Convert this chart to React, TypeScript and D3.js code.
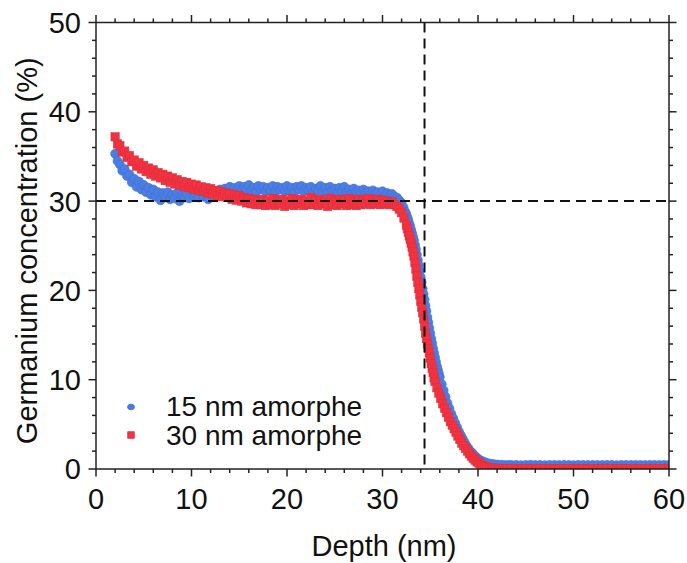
import React from "react";
import * as d3 from "d3";

// ---- Data ----
const depth15: number[] = [
  2.0, 2.25, 2.5, 2.75, 3.0, 3.25, 3.5, 3.75, 4.0, 4.25, 4.5, 4.75, 5.0, 5.25, 5.5, 5.75, 6.0, 6.25, 6.5, 6.75,
  7.0, 7.25, 7.5, 7.75, 8.0, 8.25, 8.5, 8.75, 9.0, 9.25, 9.5, 9.75, 10.0, 10.25, 10.5, 10.75, 11.0, 11.25, 11.5, 11.75,
  12.0, 12.25, 12.5, 12.75, 13.0, 13.25, 13.5, 13.75, 14.0, 14.25, 14.5, 14.75, 15.0, 15.25, 15.5, 15.75, 16.0, 16.25, 16.5, 16.75,
  17.0, 17.25, 17.5, 17.75, 18.0, 18.25, 18.5, 18.75, 19.0, 19.25, 19.5, 19.75, 20.0, 20.25, 20.5, 20.75, 21.0, 21.25, 21.5, 21.75,
  22.0, 22.25, 22.5, 22.75, 23.0, 23.25, 23.5, 23.75, 24.0, 24.25, 24.5, 24.75, 25.0, 25.25, 25.5, 25.75, 26.0, 26.25, 26.5, 26.75,
  27.0, 27.25, 27.5, 27.75, 28.0, 28.25, 28.5, 28.75, 29.0, 29.25, 29.5, 29.75, 30.0, 30.25, 30.5, 30.75, 31.0, 31.25, 31.5, 31.75,
  32.0, 32.2, 32.4, 32.5, 32.6, 32.7, 32.8, 32.9, 33.0, 33.1, 33.2, 33.3, 33.4, 33.5, 33.6, 33.7, 33.8, 33.9, 34.0, 34.1,
  34.2, 34.3, 34.4, 34.5, 34.6, 34.7, 34.8, 34.9, 35.0, 35.1, 35.2, 35.3, 35.4, 35.5, 35.6, 35.7, 35.8, 35.9, 36.0, 36.2,
  36.4, 36.6, 36.8, 37.0, 37.2, 37.4, 37.6, 37.8, 38.0, 38.2, 38.4, 38.6, 38.8, 39.0, 39.2, 39.4, 39.6, 39.8, 40.0, 40.2,
  40.4, 40.6, 40.8, 41.0, 41.3, 41.6, 42.0, 42.4, 42.8, 43.2, 43.5, 44.0, 44.5, 45.0, 45.5, 46.0, 46.5, 47.0, 47.5, 48.0,
  48.5, 49.0, 49.5, 50.0, 50.5, 51.0, 51.5, 52.0, 52.5, 53.0, 53.5, 54.0, 54.5, 55.0, 55.5, 56.0, 56.5, 57.0, 57.5, 58.0,
  58.5, 59.0, 59.5, 60.0,
];
const conc15: number[] = [
  35.3, 34.5, 34.1, 33.4, 33.6, 32.8, 33.0, 32.1, 32.5, 31.6, 32.2, 31.3, 31.8, 31.0, 31.5, 30.7, 31.3, 30.5, 31.0, 30.1,
  30.9, 30.4, 31.0, 30.2, 30.7, 30.3, 30.9, 30.0, 30.6, 30.4, 30.8, 30.3, 30.9, 30.5, 30.7, 30.4, 31.0, 30.5, 30.8, 30.2,
  31.0, 30.6, 31.1, 30.7, 31.3, 30.9, 31.4, 31.0, 31.6, 31.1, 31.5, 31.2, 31.7, 31.1, 31.6, 31.3, 31.8, 31.2, 31.5, 31.0,
  31.7, 31.3, 31.6, 31.1, 31.5, 31.2, 31.7, 31.0, 31.6, 31.3, 31.5, 31.1, 31.7, 31.2, 31.5, 31.0, 31.6, 31.3, 31.7, 31.1,
  31.5, 31.2, 31.6, 31.0, 31.4, 31.2, 31.7, 31.1, 31.5, 31.0, 31.6, 31.2, 31.4, 30.9, 31.5, 31.1, 31.6, 31.0, 31.3, 30.8,
  31.4, 31.0, 31.2, 30.8, 31.3, 30.9, 31.1, 30.7, 31.2, 30.8, 31.0, 30.6, 31.1, 30.7, 30.9, 30.6, 30.8, 30.5, 30.4, 30.1,
  29.8, 29.3, 28.8, 28.5, 28.2, 27.9, 27.5, 27.2, 26.8, 26.4, 26.0, 25.6, 25.1, 24.6, 24.0, 23.4, 22.8, 22.2, 21.5, 20.9,
  20.2, 19.6, 19.0, 18.3, 17.7, 17.0, 16.4, 15.8, 15.2, 14.6, 14.1, 13.5, 13.0, 12.5, 12.0, 11.5, 11.1, 10.7, 10.3, 9.5,
  8.8, 8.1, 7.4, 6.8, 6.2, 5.7, 5.2, 4.7, 4.2, 3.8, 3.4, 3.0, 2.6, 2.3, 2.0, 1.8, 1.55, 1.35, 1.15, 1.0,
  0.9, 0.8, 0.72, 0.65, 0.6, 0.55, 0.5, 0.48, 0.46, 0.45, 0.44, 0.46, 0.43, 0.45, 0.47, 0.44, 0.45, 0.43, 0.46, 0.45,
  0.44, 0.46, 0.45, 0.43, 0.46, 0.45, 0.44, 0.46, 0.45, 0.44, 0.46, 0.45, 0.43, 0.46, 0.45, 0.44, 0.46, 0.45, 0.44, 0.46,
  0.45, 0.44, 0.46, 0.45,
];

const depth30: number[] = [
  2.0, 2.25, 2.5, 2.75, 3.0, 3.25, 3.5, 3.75, 4.0, 4.25, 4.5, 4.75, 5.0, 5.25, 5.5, 5.75, 6.0, 6.25, 6.5, 6.75,
  7.0, 7.25, 7.5, 7.75, 8.0, 8.25, 8.5, 8.75, 9.0, 9.25, 9.5, 9.75, 10.0, 10.25, 10.5, 10.75, 11.0, 11.25, 11.5, 11.75,
  12.0, 12.25, 12.5, 12.75, 13.0, 13.25, 13.5, 13.75, 14.0, 14.25, 14.5, 14.75, 15.0, 15.25, 15.5, 15.75, 16.0, 16.25, 16.5, 16.75,
  17.0, 17.25, 17.5, 17.75, 18.0, 18.25, 18.5, 18.75, 19.0, 19.25, 19.5, 19.75, 20.0, 20.25, 20.5, 20.75, 21.0, 21.25, 21.5, 21.75,
  22.0, 22.25, 22.5, 22.75, 23.0, 23.25, 23.5, 23.75, 24.0, 24.25, 24.5, 24.75, 25.0, 25.25, 25.5, 25.75, 26.0, 26.25, 26.5, 26.75,
  27.0, 27.25, 27.5, 27.75, 28.0, 28.25, 28.5, 28.75, 29.0, 29.25, 29.5, 29.75, 30.0, 30.25, 30.5, 30.75, 31.0, 31.25, 31.5, 31.75,
  32.0, 32.25, 32.5, 32.6, 32.7, 32.8, 32.9, 33.0, 33.1, 33.2, 33.3, 33.4, 33.5, 33.6, 33.7, 33.8, 33.9, 34.0, 34.1, 34.2,
  34.3, 34.4, 34.5, 34.6, 34.7, 34.8, 34.9, 35.0, 35.1, 35.2, 35.3, 35.4, 35.5, 35.7, 35.9, 36.1, 36.3, 36.5, 36.7, 36.9,
  37.1, 37.3, 37.5, 37.7, 37.9, 38.1, 38.3, 38.5, 38.7, 38.9, 39.1, 39.3, 39.5, 39.7, 39.9, 40.1, 40.3, 40.5, 40.7, 40.9,
  41.2, 41.5, 41.8, 42.2, 42.6, 43.0, 43.5, 44.0, 44.5, 45.0, 45.5, 46.0, 46.5, 47.0, 47.5, 48.0, 48.5, 49.0, 49.5, 50.0,
  50.5, 51.0, 51.5, 52.0, 52.5, 53.0, 53.5, 54.0, 54.5, 55.0, 55.5, 56.0, 56.5, 57.0, 57.5, 58.0, 58.5, 59.0, 59.5, 60.0,
];
const conc30: number[] = [
  37.2, 36.4, 36.2, 35.5, 35.6, 34.9, 35.1, 34.4, 34.6, 33.9, 34.3, 33.6, 34.0, 33.3, 33.7, 33.0, 33.5, 32.8, 33.2, 32.6,
  33.0, 32.3, 32.8, 32.1, 32.6, 31.9, 32.4, 31.8, 32.2, 31.6, 32.1, 31.5, 31.9, 31.3, 31.8, 31.2, 31.6, 31.1, 31.5, 30.9,
  31.4, 30.8, 31.2, 30.6, 31.1, 30.5, 30.9, 30.4, 30.8, 30.2, 30.7, 30.1, 30.6, 30.0, 30.4, 29.8, 30.3, 29.7, 30.2, 29.6,
  30.1, 29.6, 30.2, 29.5, 30.0, 29.6, 30.3, 29.5, 30.1, 29.7, 30.2, 29.4, 30.0, 29.6, 30.3, 29.5, 30.1, 29.7, 30.2, 29.5,
  30.0, 29.6, 30.4, 29.6, 30.1, 29.5, 30.2, 29.7, 30.0, 29.4, 30.3, 29.6, 30.1, 29.5, 30.2, 29.7, 30.1, 29.5, 30.3, 29.6,
  30.0, 29.5, 30.2, 29.6, 30.1, 29.7, 30.3, 29.6, 30.1, 29.7, 30.2, 29.6, 30.1, 29.7, 30.0, 29.6, 29.9, 29.6, 29.4, 29.1,
  28.7, 28.1, 27.3, 26.9, 26.5, 26.1, 25.7, 25.3, 24.8, 24.3, 23.8, 23.1, 22.4, 21.6, 20.9, 20.2, 19.5, 18.8, 18.1, 17.5,
  16.8, 16.0, 15.2, 14.6, 14.0, 13.5, 13.0, 12.4, 11.8, 11.3, 10.8, 10.2, 9.8, 9.1, 8.5, 7.9, 7.3, 6.8, 6.3, 5.8,
  5.3, 4.9, 4.5, 4.1, 3.7, 3.3, 2.9, 2.6, 2.3, 2.0, 1.7, 1.45, 1.2, 1.0, 0.8, 0.65, 0.5, 0.4, 0.3, 0.22,
  0.15, 0.1, 0.08, 0.07, 0.06, 0.06, 0.07, 0.06, 0.05, 0.07, 0.06, 0.05, 0.07, 0.06, 0.05, 0.06, 0.07, 0.05, 0.06, 0.07,
  0.05, 0.06, 0.07, 0.05, 0.06, 0.07, 0.06, 0.05, 0.07, 0.06, 0.06, 0.05, 0.07, 0.06, 0.05, 0.07, 0.06, 0.05, 0.06, 0.07,
];

const seriesNames: string[] = ["15 nm amorphe", "30 nm amorphe"];
const xTicks: number[] = [0, 10, 20, 30, 40, 50, 60];
const yTicks: number[] = [0, 10, 20, 30, 40, 50];
const refConc = 30;
const refDepth = 34.4;

const W = 687;
const H = 563;
const M = { left: 96, right: 669, top: 22.5, bottom: 469 };
const FONT = "'Liberation Sans', Arial, Helvetica, sans-serif";
const FS = 29;
const LFS = 28;
const BLUE = "#4b7ee4";
const RED = "#ef3340";

export default function App() {
  const x = d3.scaleLinear().domain([0, 60]).range([M.left, M.right]);
  const y = d3.scaleLinear().domain([0, 50]).range([M.bottom, M.top]);

  const xMinor = d3.range(0, 60.001, 2).filter((v) => v % 10 !== 0);
  const yMinor = d3.range(0, 50.001, 2).filter((v) => v % 10 !== 0);

  const blue = depth15.map((d, i) => ({ x: d, y: conc15[i] }));
  const red = depth30.map((d, i) => ({ x: d, y: conc30[i] }));

  const axisColor = "#222";
  const axisW = 1.5;
  const majorLen = 7.5;
  const minorLen = 4;
  const sq = 8.4;

  return (
    <svg
      width={W}
      height={H}
      style={{ position: "fixed", left: 0, top: 0, background: "#fff" }}
      fontFamily={FONT}
    >
      <defs>
        <clipPath id="plotClip">
          <rect x={M.left} y={M.top} width={M.right - M.left} height={M.bottom - M.top} />
        </clipPath>
      </defs>

      {/* data */}
      <g clipPath="url(#plotClip)">
        {blue.map((p, i) => (
          <circle key={"b" + i} cx={x(p.x)} cy={y(p.y)} r={4.5} fill={BLUE} stroke="#3f6fd0" strokeWidth={0.6} />
        ))}
        {red.map((p, i) => (
          <rect
            key={"r" + i}
            x={x(p.x) - sq / 2}
            y={y(p.y) - sq / 2}
            width={sq}
            height={sq}
            fill={RED}
            stroke="#e52a38"
            strokeWidth={0.5}
          />
        ))}
      </g>

      {/* reference dashed lines */}
      <line
        x1={x(0)}
        x2={x(60)}
        y1={y(refConc)}
        y2={y(refConc)}
        stroke="#111"
        strokeWidth={2}
        strokeDasharray="10,6"
      />
      <line
        x1={x(refDepth)}
        x2={x(refDepth)}
        y1={y(50)}
        y2={y(0)}
        stroke="#111"
        strokeWidth={2}
        strokeDasharray="10,6"
      />

      {/* frame */}
      <rect
        x={M.left}
        y={M.top}
        width={M.right - M.left}
        height={M.bottom - M.top}
        fill="none"
        stroke={axisColor}
        strokeWidth={axisW}
      />

      {/* x ticks bottom and top */}
      {xTicks.map((t) => (
        <g key={"xt" + t}>
          <line x1={x(t)} x2={x(t)} y1={M.bottom} y2={M.bottom + majorLen} stroke={axisColor} strokeWidth={axisW} />
          <line x1={x(t)} x2={x(t)} y1={M.top} y2={M.top - majorLen} stroke={axisColor} strokeWidth={axisW} />
          <text x={x(t)} y={509} textAnchor="middle" fontSize={FS} fill="#111">
            {t}
          </text>
        </g>
      ))}
      {xMinor.map((t) => (
        <g key={"xm" + t}>
          <line x1={x(t)} x2={x(t)} y1={M.bottom} y2={M.bottom + minorLen} stroke={axisColor} strokeWidth={axisW} />
          <line x1={x(t)} x2={x(t)} y1={M.top} y2={M.top - minorLen} stroke={axisColor} strokeWidth={axisW} />
        </g>
      ))}

      {/* y ticks left and right */}
      {yTicks.map((t) => (
        <g key={"yt" + t}>
          <line x1={M.left} x2={M.left - majorLen} y1={y(t)} y2={y(t)} stroke={axisColor} strokeWidth={axisW} />
          <line x1={M.right} x2={M.right + majorLen} y1={y(t)} y2={y(t)} stroke={axisColor} strokeWidth={axisW} />
          <text x={81} y={y(t)} dy="0.36em" textAnchor="end" fontSize={FS} fill="#111">
            {t}
          </text>
        </g>
      ))}
      {yMinor.map((t) => (
        <g key={"ym" + t}>
          <line x1={M.left} x2={M.left - minorLen} y1={y(t)} y2={y(t)} stroke={axisColor} strokeWidth={axisW} />
          <line x1={M.right} x2={M.right + minorLen} y1={y(t)} y2={y(t)} stroke={axisColor} strokeWidth={axisW} />
        </g>
      ))}

      {/* axis titles */}
      <text x={384} y={556} textAnchor="middle" fontSize={FS} fill="#111">
        Depth (nm)
      </text>
      <text
        transform={`translate(37, ${(M.top + M.bottom) / 2 + 5}) rotate(-90)`}
        textAnchor="middle"
        fontSize={FS}
        fill="#111"
      >
        Germanium concentration (%)
      </text>

      {/* legend */}
      <g>
        <ellipse cx={131} cy={407} rx={3.4} ry={2.8} fill={BLUE} stroke="#3a63b8" strokeWidth={0.8} />
        <text x={166} y={416} fontSize={LFS} fill="#111">
          {seriesNames[0]}
        </text>
        <rect x={131 - 3.3} y={435 - 3.3} width={6.6} height={6.6} fill={RED} stroke="#d42838" strokeWidth={0.6} />
        <text x={166} y={445} fontSize={LFS} fill="#111">
          {seriesNames[1]}
        </text>
      </g>
    </svg>
  );
}
